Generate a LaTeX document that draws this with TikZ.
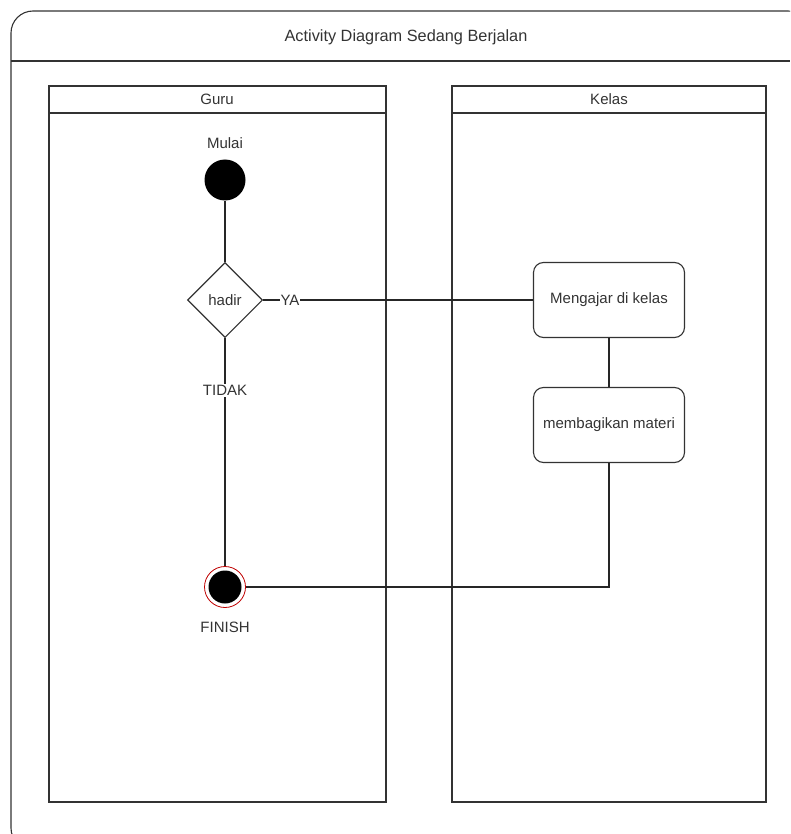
\documentclass[tikz,border=0pt]{standalone}
\usepackage{fontspec}
\setmainfont{Liberation Sans}
\usetikzlibrary{shapes.geometric}
\begin{document}
\begin{tikzpicture}[x=1pt,y=-1pt,
  lbl/.style={font=\fontsize{15}{17}\selectfont, text=black!80},
  lane/.style={draw=black!80, line width=1.1pt},
  act/.style={draw=black!80, line width=1.1pt, rounded corners=10pt, minimum width=151pt, minimum height=75pt, inner sep=0pt, font=\fontsize{15}{17}\selectfont, text=black!80},
  dec/.style={diamond, draw=black!80, line width=1.1pt, minimum width=75pt, minimum height=75pt, inner sep=0pt, font=\fontsize{15}{17}\selectfont, text=black!80},
  conn/.style={draw=black!85, line width=1.1pt}]
\useasboundingbox (0,0) rectangle (790,834);
\begin{scope}
\clip (0,0) rectangle (790,834);
\draw[lane, rounded corners=22pt] (11,11) rectangle (810,850);
\draw[lane] (11,61) -- (790,61);
\end{scope}
\node[lbl, font=\fontsize{16.3}{18}\selectfont] (title) at (406,37) {Activity Diagram Sedang Berjalan};
% lanes
\draw[lane] (49,86) rectangle (386,802);
\draw[lane] (49,113) -- (386,113);
\node[lbl] (guru) at (217,99) {Guru};
\draw[lane] (452,86) rectangle (766,802);
\draw[lane] (452,113) -- (766,113);
\node[lbl] (kelas) at (609,99) {Kelas};
% nodes
\node[circle, fill=black, minimum size=41pt, inner sep=0pt] (start) at (225,180) {};
\node[lbl, anchor=south] (mulai) at (225,152) {Mulai};
\node[dec] (d) at (225,300) {hadir};
\node[act] (a1) at (609,300) {Mengajar di kelas};
\node[act] (a2) at (609,425) {membagikan materi};
\node[circle, draw=red!75!black, fill=white, line width=0.8pt, minimum size=41pt, inner sep=0pt] (fin) at (225,587) {};
\node[circle, fill=black, minimum size=33pt, inner sep=0pt] (finin) at (fin) {};
\node[lbl, anchor=north] (finish) at (225,618) {FINISH};
% connectors
\draw[conn] (start) -- (d);
\draw[conn] (d.east) -- node[lbl, fill=white, inner sep=1pt, pos=0.1] (ya) {YA} (a1.west);
\draw[conn] (d.south) -- node[lbl, fill=white, inner sep=1pt, pos=0.23] (tidak) {TIDAK} (fin.north);
\draw[conn] (a1) -- (a2);
\draw[conn] (a2.south) |- (fin.east);
\end{tikzpicture}
\end{document}
